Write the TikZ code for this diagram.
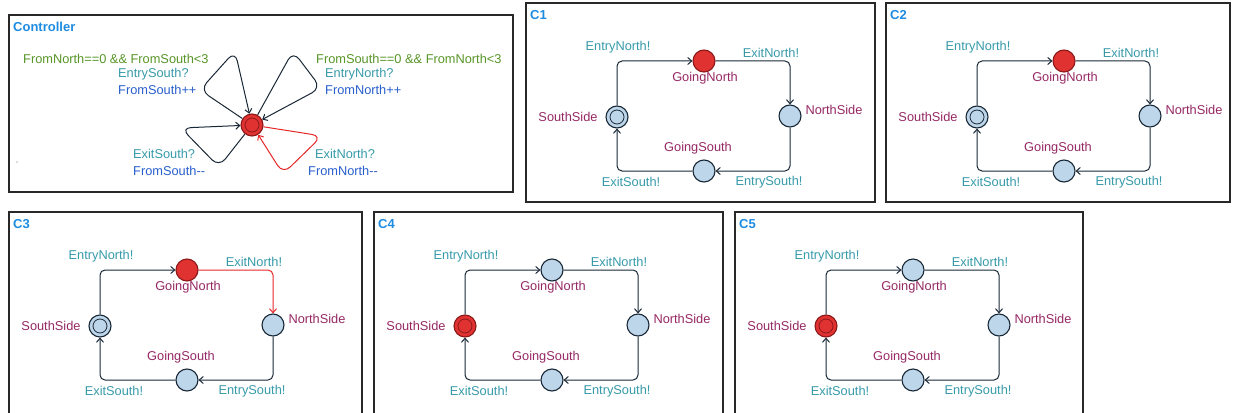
\documentclass[tikz,border=0pt]{standalone}
\usepackage{fontspec}
\setmainfont{Liberation Sans}
\usetikzlibrary{arrows.meta}
\definecolor{guardc}{RGB}{88,150,40}
\definecolor{syncc}{RGB}{55,155,170}
\definecolor{updc}{RGB}{40,95,205}
\definecolor{locc}{RGB}{150,40,100}
\definecolor{titlec}{RGB}{30,140,225}
\definecolor{locfill}{RGB}{190,214,234}
\definecolor{locdraw}{RGB}{25,40,55}
\definecolor{hotfill}{RGB}{225,50,50}
\definecolor{hotdraw}{RGB}{140,25,25}
\definecolor{edgered}{RGB}{230,40,40}
\definecolor{framec}{RGB}{40,40,40}
\tikzset{
 every node/.style={font=\fontsize{12.8}{15}\selectfont, inner sep=0pt},
 panel/.style={draw=framec, line width=1.3pt},
 ptitle/.style={font=\fontsize{13}{15}\selectfont\bfseries, text=titlec, anchor=west},
 loc/.style={circle, draw=locdraw, line width=1.1pt, fill=locfill, minimum size=22pt},
 hot/.style={fill=hotfill, draw=hotdraw},
 inring/.style={draw=locdraw, line width=0.8pt},
 hotring/.style={draw=hotdraw, line width=0.8pt},
 locname/.style={text=locc},
 synclbl/.style={text=syncc},
 guardlbl/.style={text=guardc, anchor=west},
 updlbl/.style={text=updc, anchor=west},
 trans/.style={draw=locdraw, line width=1pt, rounded corners=5pt, -{Straight Barb[length=4pt,width=7pt]}},
 redtrans/.style={draw=edgered},
 loopy/.style={rounded corners=10pt},
}
% #1 shift, #2 frame corner, #3 title, #4 prefix, #5 GN style, #6 SS style, #7 GN->NS style, #8 ring style
\newcommand\trainpanel[8]{%
\begin{scope}[shift={#1}]
 \draw[panel] (0,0) rectangle #2;
 \node[ptitle] (#4t) at (4,12) {#3};
 \node[loc,#5] (#4gn) at (178,58) {};
 \node[loc] (#4ns) at (264,113) {};
 \node[loc] (#4gs) at (178,168) {};
 \node[loc,#6] (#4ss) at (91,114) {};
 \draw[#8] (#4ss.center) circle[radius=7pt];
 \draw[trans] (#4ss) |- (#4gn);
 \draw[trans,#7] (#4gn) -| (#4ns);
 \draw[trans] (#4ns) |- (#4gs);
 \draw[trans] (#4gs) -| (#4ss);
 \node[synclbl] (#4a) at (92,44) {EntryNorth!};
 \node[synclbl] (#4b) at (245,50) {ExitNorth!};
 \node[locname] (#4c) at (179,75) {GoingNorth};
 \node[locname] (#4d) at (308,107) {NorthSide};
 \node[locname] (#4e) at (42,114) {SouthSide};
 \node[locname] (#4f) at (172,145) {GoingSouth};
 \node[synclbl] (#4g) at (105,179) {ExitSouth!};
 \node[synclbl] (#4h) at (243,179) {EntrySouth!};
\end{scope}}
\begin{document}
\begin{tikzpicture}[x=1pt,y=-1pt]
\useasboundingbox (0,0) rectangle (1233,412);
\fill[white] (0,0) rectangle (1233,412);
% Controller
\draw[panel] (9,15) rectangle (513,192);
\node[ptitle] (ctitle) at (13,27) {Controller};
\node[loc,hot] (ctl) at (252,125) {};
\draw[hotring] (ctl.center) circle[radius=7pt];
\coordinate (tla) at (200,90); \coordinate (tlb) at (235,51);
\coordinate (tra) at (293,51); \coordinate (trb) at (321,88);
\coordinate (bla) at (219,167); \coordinate (blb) at (181,128);
\coordinate (bra) at (322,136); \coordinate (brb) at (283,174);
\draw[trans, loopy] (ctl) -- (tla) -- (tlb) -- (ctl);
\draw[trans, loopy] (ctl) -- (tra) -- (trb) -- (ctl);
\draw[trans, loopy] (ctl) -- (bla) -- (blb) -- (ctl);
\draw[trans, redtrans, loopy] (ctl) -- (bra) -- (brb) -- (ctl);
\node[guardlbl] (g1) at (23,59) {FromNorth==0 \&\& FromSouth<3};
\node[synclbl, anchor=west] (s1) at (118,74) {EntrySouth?};
\node[updlbl] (u1) at (118,90) {FromSouth++};
\node[guardlbl] (g2) at (316,59) {FromSouth==0 \&\& FromNorth<3};
\node[synclbl, anchor=west] (s2) at (325,74) {EntryNorth?};
\node[updlbl] (u2) at (325,90) {FromNorth++};
\node[synclbl, anchor=west] (s3) at (133,154) {ExitSouth?};
\node[updlbl] (u3) at (133,171) {FromSouth-{}-};
\node[synclbl, anchor=west] (s4) at (315,154) {ExitNorth?};
\node[updlbl] (u4) at (308,171) {FromNorth-{}-};
\fill[black!60] (17,162) circle[radius=0.7pt];
% panels
\trainpanel{(526,3)}{(349,199)}{C1}{p1}{hot}{}{}{inring}
\trainpanel{(886,3)}{(344,199)}{C2}{p2}{hot}{}{}{inring}
\trainpanel{(9,212)}{(353,202)}{C3}{p3}{hot}{}{redtrans}{inring}
\trainpanel{(374,212)}{(349,202)}{C4}{p4}{}{hot}{}{hotring}
\trainpanel{(735,212)}{(348,202)}{C5}{p5}{}{hot}{}{hotring}
\end{tikzpicture}
\end{document}
